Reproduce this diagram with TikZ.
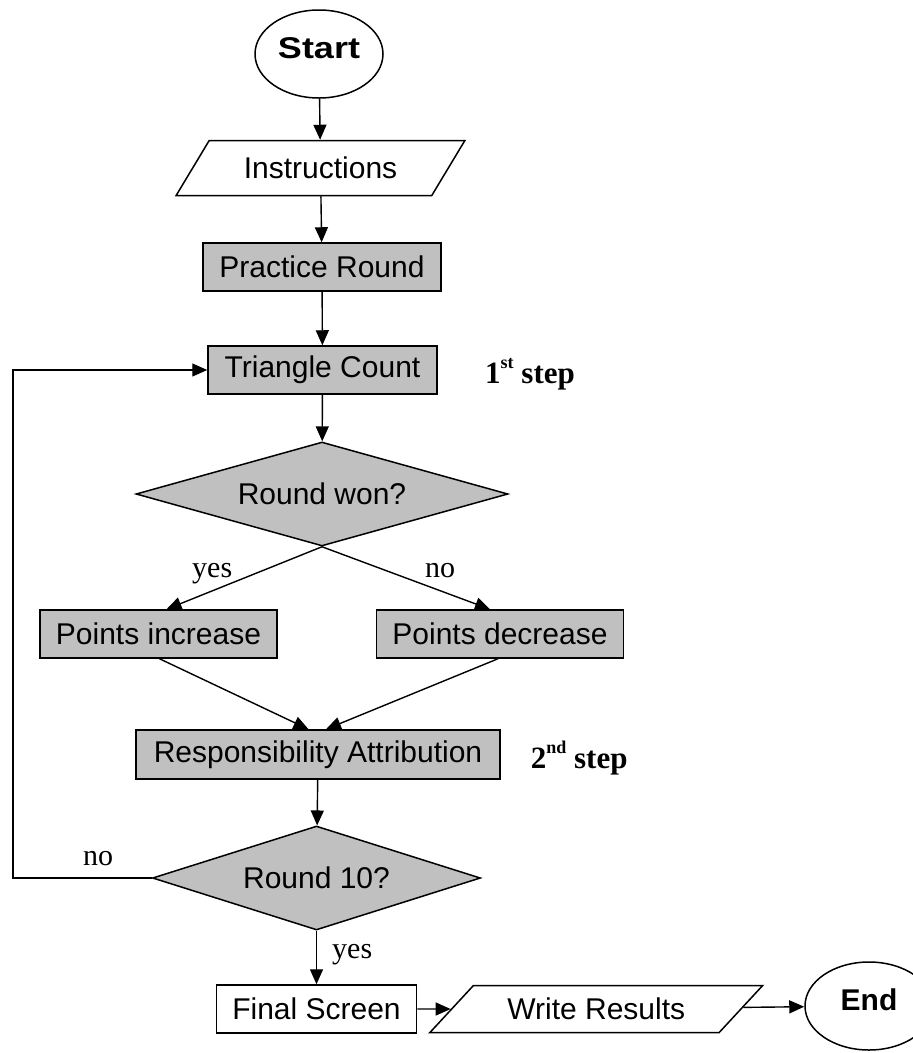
\documentclass[tikz,border=0pt]{standalone}
\usepackage{fontspec}
\setmainfont{Liberation Sans}
\newfontfamily\serifl{Liberation Serif}
\usetikzlibrary{shapes.geometric,arrows.meta}
\definecolor{boxgray}{RGB}{192,192,192}
\tikzset{
  base/.style={draw=black, line width=1.5pt, inner sep=0pt, font=\fontsize{30}{34}\selectfont},
  graybox/.style={base, rectangle, fill=boxgray},
  whitebox/.style={base, rectangle, fill=white},
  term/.style={base, ellipse, fill=white, minimum width=128pt, minimum height=88pt,
     font=\fontsize{30}{34}\selectfont\bfseries, text height=21pt, text depth=13pt},
  decision/.style={base, diamond, fill=boxgray},
  io/.style={base, trapezium, trapezium stretches=true, fill=white},
  conn/.style={line width=1.4pt, -{Triangle[length=15pt,width=13pt]}},
  lbl/.style={inner sep=0pt, anchor=base west, font=\serifl\fontsize{30}{34}\selectfont},
  steplbl/.style={inner sep=0pt, anchor=base west, font=\serifl\fontsize{31}{34}\selectfont\bfseries}
}
\newcommand{\supr}[1]{\raisebox{15pt}{\fontsize{18}{18}\selectfont #1}}
\begin{document}
\begin{tikzpicture}[x=1pt, y=-1pt]
\useasboundingbox (0,0) rectangle (913,1053);
\clip (0,0) rectangle (913,1053);

\node[term] (start) at (319,54) {\scalebox{1.2}[1]{Start}};
\node[io, trapezium left angle=44, trapezium right angle=136, minimum width=289pt, minimum height=55pt] (instr) at (320.5,168) {Instructions};
\node[graybox, minimum width=238pt, minimum height=48pt] (prac) at (322,267) {Practice Round};
\node[graybox, minimum width=229pt, minimum height=48pt] (tri) at (322.5,370) {Triangle Count};
\node[decision, aspect=3.58, minimum width=372pt, minimum height=104pt] (won) at (322,494) {Round won?};
\node[graybox, minimum width=237pt, minimum height=48pt] (inc) at (158.5,634) {Points increase};
\node[graybox, minimum width=247pt, minimum height=48pt] (dec) at (500,634) {Points decrease};
\node[graybox, minimum width=364pt, minimum height=49pt] (resp) at (318,754.5) {Responsibility Attribution};
\node[decision, aspect=3.15, minimum width=328pt, minimum height=104pt] (r10) at (316.5,878) {Round 10?};
\node[whitebox, minimum width=200pt, minimum height=48pt] (fin) at (316.5,1009) {Final Screen};
\node[io, trapezium left angle=35, trapezium right angle=145, minimum width=333pt, minimum height=47pt] (wr) at (596.3,1009) {Write Results};
\node[term] (end) at (869,1006) {End};

\node[steplbl] (s1) at (485,383) {1\supr{st} step};
\node[steplbl] (s2) at (530.7,768) {2\supr{nd} step};
\node[lbl] (yes1) at (192,577) {yes};
\node[lbl] (no1) at (425,577) {no};
\node[lbl] (no2) at (83,865) {no};
\node[lbl] (yes2) at (332,958) {yes};

\coordinate (loopx) at (13,0);

\draw[conn] (start) -- (instr);
\draw[conn] (instr) -- (prac);
\draw[conn] (prac) -- (tri);
\draw[conn] (tri) -- (won);
\draw[conn] (won.south) -- ([xshift=8pt]inc.north);
\draw[conn] (won.south) -- ([xshift=-10pt]dec.north);
\draw[conn] ([xshift=1pt]inc.south) -- ([xshift=-9.5pt]resp.north);
\draw[conn] ([xshift=-2pt]dec.south) -- ([xshift=8pt]resp.north);
\draw[conn] (resp) -- (r10);
\draw[conn] (r10) -- (fin);
\draw[conn] (fin) -- (wr);
\draw[conn] (wr) -- (end);
\draw[conn] (r10.west) -- (r10.west -| loopx) |- (tri.west);
\end{tikzpicture}
\end{document}
